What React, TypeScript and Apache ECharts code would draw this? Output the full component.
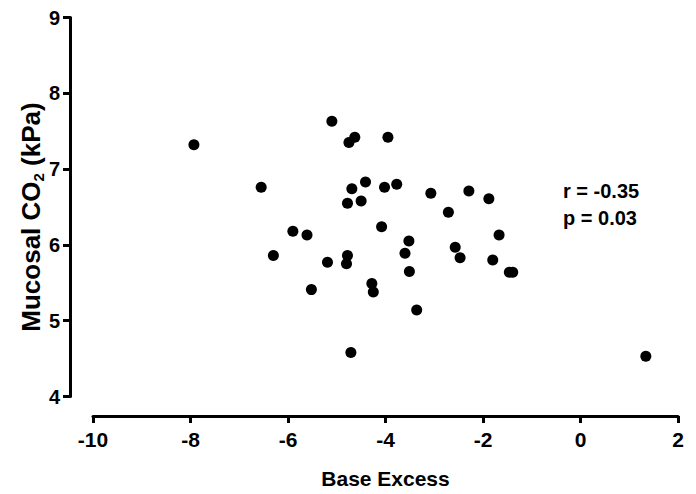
import React, { useEffect, useRef } from "react";
import * as echarts from "echarts";

const baseExcess: number[] = [
  -7.93, -6.55, -5.10, -4.63, -4.75, -3.95, -4.69, -4.41, -4.02, -3.77,
  -3.07, -4.78, -4.50, -4.08, -5.90, -5.61, -3.52, -6.30, -3.60, -5.19,
  -4.78, -4.80, -3.51, -4.28, -4.25, -5.52, -3.36, -4.71, -2.29, -1.88,
  -2.71, -1.67, -2.57, -2.47, -1.80, -1.46, -1.39, 1.34,
];
const mucosalCO2: number[] = [
  7.32, 6.76, 7.63, 7.42, 7.35, 7.42, 6.74, 6.83, 6.76, 6.80,
  6.68, 6.55, 6.58, 6.24, 6.18, 6.13, 6.05, 5.86, 5.89, 5.77,
  5.86, 5.75, 5.65, 5.49, 5.38, 5.41, 5.14, 4.58, 6.71, 6.61,
  6.43, 6.13, 5.97, 5.83, 5.80, 5.64, 5.64, 4.53,
];
const statsLines: string[] = ["r = -0.35", "p = 0.03"];
const xTitle = "Base Excess";

const FONT = "'Liberation Sans', Arial, sans-serif";

export default function App() {
  const ref = useRef<HTMLDivElement>(null);
  useEffect(() => {
    document.body.style.margin = "0";
    if (!ref.current) return;
    const chart = echarts.init(ref.current, undefined, { renderer: "svg" });
    const data = baseExcess.map((x, i) => [x, mucosalCO2[i]]);
    chart.setOption({
      animation: false,
      backgroundColor: "#ffffff",
      grid: { left: 93, right: 18, top: 17.5, bottom: 92.5 },
      xAxis: {
        type: "value",
        min: -10,
        max: 2,
        interval: 2,
        offset: 19.5,
        splitLine: { show: false },
        axisLine: { show: true, onZero: false, lineStyle: { color: "#000", width: 3 } },
        axisTick: { show: true, length: 7, lineStyle: { color: "#000", width: 3 } },
        axisLabel: {
          formatter: (v: number) => "{t|" + v + "}",
          rich: {
            t: {
              color: "#000",
              fontFamily: FONT,
              fontWeight: "bold",
              fontSize: 21,
            },
          },
          margin: 13,
        },
        name: xTitle,
        nameLocation: "middle",
        nameGap: 52,
        nameTextStyle: {
          color: "#000",
          fontFamily: FONT,
          fontWeight: "bold",
          fontSize: 21,
        },
      },
      yAxis: {
        type: "value",
        min: 4,
        max: 9,
        interval: 1,
        offset: 23,
        splitLine: { show: false },
        axisLine: { show: true, onZero: false, lineStyle: { color: "#000", width: 3 } },
        axisTick: { show: true, length: 7, lineStyle: { color: "#000", width: 3 } },
        axisLabel: {
          formatter: (v: number) => "{t|" + v + "}",
          rich: {
            t: {
              color: "#000",
              fontFamily: FONT,
              fontWeight: "bold",
              fontSize: 20,
            },
          },
          margin: 10,
        },
      },
      graphic: [
        {
          type: "text",
          x: 31,
          y: 217,
          rotation: Math.PI / 2,
          style: {
            text: "{a|Mucosal CO}{s|2}{a| (kPa)}",
            align: "center",
            verticalAlign: "middle",
            fill: "#000",
            rich: {
              a: {
                fontFamily: FONT,
                fontWeight: "bold",
                fontSize: 26,
                fill: "#000",
                lineHeight: 30,
              },
              s: {
                fontFamily: FONT,
                fontWeight: "bold",
                fontSize: 15,
                fill: "#000",
                lineHeight: 30,
                padding: [14, 0, 0, 0],
              },
            },
          },
        },
        {
          type: "text",
          left: 563,
          top: 177,
          style: {
            text: statsLines.join("\n"),
            fill: "#000",
            fontFamily: FONT,
            fontWeight: "bold",
            fontSize: 20,
            lineHeight: 27,
          },
        },
      ],
      series: [
        {
          type: "scatter",
          data,
          symbol: "circle",
          symbolSize: 11,
          itemStyle: { color: "#000", opacity: 1 },
        },
      ],
    });
    return () => chart.dispose();
  }, []);
  return <div ref={ref} style={{ width: 696, height: 494 }} />;
}
